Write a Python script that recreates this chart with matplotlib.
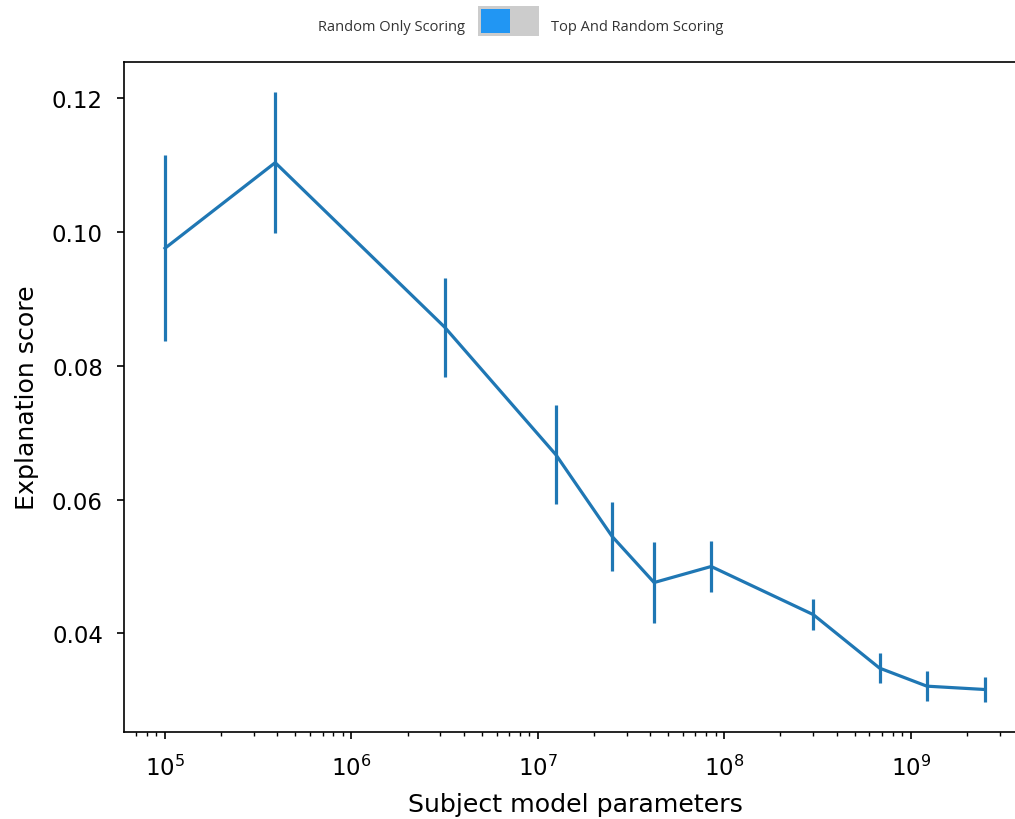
import matplotlib
matplotlib.use("Agg")
import matplotlib.pyplot as plt
from matplotlib.patches import Rectangle

plt.rcParams['font.family'] = ['DejaVu Sans']
plt.rcParams['mathtext.fontset'] = 'dejavusans'

# Subject model sizes (parameters) and explanation scores
params = [1.0e5, 3.9e5, 3.16e6, 1.25e7, 2.5e7, 4.2e7, 8.5e7, 3.0e8, 6.8e8, 1.22e9, 2.5e9]
scores = [0.0976, 0.1104, 0.0858, 0.0667, 0.0545, 0.0476, 0.0500, 0.0428, 0.0348, 0.0321, 0.0316]
errors = [0.0139, 0.0105, 0.0074, 0.0074, 0.0052, 0.0060, 0.0038, 0.0023, 0.0022, 0.0022, 0.0018]

toggle_left = "Random Only Scoring"
toggle_right = "Top And Random Scoring"

fig = plt.figure(figsize=(10.15, 8.2), dpi=100)
fig.patch.set_facecolor("white")

# Toggle widget drawn above the plot
fig.text(0.458, 0.966, toggle_left, ha="right", va="center",
         fontsize=10.5, color="#333333", family=["Open Sans", "DejaVu Sans"])
fig.text(0.543, 0.966, toggle_right, ha="left", va="center",
         fontsize=10.5, color="#333333", family=["Open Sans", "DejaVu Sans"])
fig.patches.append(Rectangle((0.471, 0.955), 0.060, 0.037, transform=fig.transFigure,
                             facecolor="#cccccc", edgecolor="none"))
fig.patches.append(Rectangle((0.474, 0.959), 0.028, 0.029, transform=fig.transFigure,
                             facecolor="#2196f3", edgecolor="none"))

ax = fig.add_axes([0.1222, 0.1061, 0.8886, 0.8171])
ax.errorbar(params, scores, yerr=errors, color="#1f77b4", linewidth=2.3, elinewidth=2.3)
ax.set_xscale("log")

ax.set_xlabel("Subject model parameters", fontsize=18.2, labelpad=9)
ax.set_ylabel("Explanation score", fontsize=18.2, labelpad=9)
ax.set_yticks([0.04, 0.06, 0.08, 0.10, 0.12])
ax.tick_params(axis="both", which="major", labelsize=16.5, length=5.2, width=1.2, pad=10)
ax.tick_params(axis="x", which="major", pad=11)
ax.tick_params(axis="both", which="minor", length=3, width=1.0)
for sp in ax.spines.values():
    sp.set_linewidth(1.2)

fig.savefig("out.png", dpi=100)
